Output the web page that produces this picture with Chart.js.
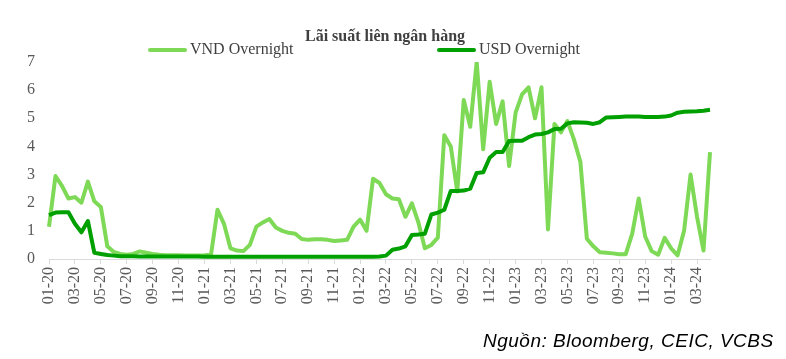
<!DOCTYPE html>
<html><head><meta charset="utf-8">
<script src="https://cdn.jsdelivr.net/npm/chart.js@4.4.1/dist/chart.umd.min.js"></script>
<style>
html,body{margin:0;padding:0;background:#fff;}
#wrap{position:relative;width:786px;height:359px;}
#source{position:absolute;left:483px;top:330px;font:italic 19px "Liberation Sans",Arial,sans-serif;letter-spacing:0.5px;color:#000;white-space:nowrap;}
</style></head><body>
<div id="wrap"><canvas id="c" width="786" height="359"></canvas><div id="source">Nguồn: Bloomberg, CEIC, VCBS</div></div>
<script>
const chartTitle = 'Lãi suất liên ngân hàng';
const seriesNames = ['VND Overnight', 'USD Overnight'];
const months = [
 '01-20','02-20','03-20','04-20','05-20','06-20','07-20','08-20','09-20','10-20','11-20','12-20',
 '01-21','02-21','03-21','04-21','05-21','06-21','07-21','08-21','09-21','10-21','11-21','12-21',
 '01-22','02-22','03-22','04-22','05-22','06-22','07-22','08-22','09-22','10-22','11-22','12-22',
 '01-23','02-23','03-23','04-23','05-23','06-23','07-23','08-23','09-23','10-23','11-23','12-23',
 '01-24','02-24','03-24','04-24'];
// half-monthly readings (%)
const vndOvernight = [
 1.15, 2.95, 2.6, 2.15, 2.2, 2.0, 2.75, 2.05, 1.85, 0.45,
 0.25, 0.18, 0.15, 0.18, 0.27, 0.22, 0.18, 0.15, 0.13, 0.13,
 0.13, 0.12, 0.12, 0.12, 0.13, 0.15, 1.75, 1.25, 0.38, 0.3,
 0.28, 0.5, 1.15, 1.3, 1.42, 1.12, 1.0, 0.93, 0.9, 0.71,
 0.68, 0.7, 0.7, 0.68, 0.64, 0.66, 0.68, 1.15, 1.4, 1.0,
 2.85, 2.7, 2.3, 2.15, 2.12, 1.5, 1.98, 1.3, 0.38, 0.5,
 0.76, 4.4, 4.0, 2.4, 5.65, 4.7, 7.0, 3.9, 6.3, 4.8,
 5.6, 3.3, 5.2, 5.85, 6.1, 5.0, 6.1, 1.05, 4.8, 4.5,
 4.9, 4.25, 3.45, 0.72, 0.45, 0.24, 0.22, 0.2, 0.17, 0.17,
 0.9, 2.15, 0.8, 0.28, 0.15, 0.75, 0.38, 0.13, 1.0, 3.0,
 1.5, 0.3, 3.8];
const usdOvernight = [
 1.56, 1.65, 1.66, 1.66, 1.25, 0.95, 1.35, 0.22, 0.18, 0.14,
 0.12, 0.1, 0.1, 0.1, 0.09, 0.09, 0.09, 0.09, 0.09, 0.09,
 0.09, 0.09, 0.09, 0.09, 0.08, 0.08, 0.08, 0.08, 0.08, 0.08,
 0.08, 0.08, 0.08, 0.08, 0.08, 0.08, 0.08, 0.08, 0.08, 0.08,
 0.08, 0.08, 0.08, 0.08, 0.08, 0.08, 0.08, 0.08, 0.08, 0.08,
 0.08, 0.09, 0.12, 0.33, 0.37, 0.45, 0.85, 0.87, 0.9, 1.58,
 1.65, 1.75, 2.42, 2.42, 2.43, 2.5, 3.06, 3.08, 3.6, 3.8,
 3.8, 4.19, 4.2, 4.2, 4.33, 4.42, 4.44, 4.5, 4.62, 4.63,
 4.82, 4.86, 4.85, 4.84, 4.8, 4.86, 5.03, 5.04, 5.05, 5.06,
 5.06, 5.06, 5.05, 5.05, 5.05, 5.06, 5.1, 5.2, 5.23, 5.24,
 5.25, 5.27, 5.3];

const periods = months.flatMap(m => [m, m]).slice(0, vndOvernight.length);

const SERIF = '"Liberation Serif", "Times New Roman", serif';

const headerPlugin = {
  id: 'header',
  afterDraw(chart) {
    const ctx = chart.ctx;
    ctx.save();
    ctx.textBaseline = 'middle';
    ctx.fillStyle = '#404040';
    ctx.font = 'bold 16px ' + SERIF;
    ctx.textAlign = 'center';
    ctx.fillText(chartTitle, 385, 37);
    const keyX = [148, 437];
    ctx.font = '16px ' + SERIF;
    ctx.textAlign = 'left';
    chart.data.datasets.forEach((ds, i) => {
      const x = keyX[i];
      ctx.strokeStyle = ds.borderColor;
      ctx.lineWidth = 4;
      ctx.lineCap = 'round';
      ctx.beginPath();
      ctx.moveTo(x + 2, 50);
      ctx.lineTo(x + 37, 50);
      ctx.stroke();
      ctx.fillStyle = '#404040';
      ctx.fillText(ds.label, x + 42, 50);
    });
    ctx.restore();
  }
};

new Chart(document.getElementById('c'), {
  type: 'line',
  data: {
    labels: periods,
    datasets: [
      { label: seriesNames[0], data: vndOvernight, borderColor: '#7ed957', borderWidth: 4, pointRadius: 0, tension: 0, order: 1, borderJoinStyle: 'round' },
      { label: seriesNames[1], data: usdOvernight, borderColor: '#00a000', borderWidth: 4, pointRadius: 0, tension: 0, order: 0, borderJoinStyle: 'round' }
    ]
  },
  options: {
    responsive: false,
    animation: false,
    devicePixelRatio: 1,
    layout: { padding: { top: 62, right: 76, bottom: 0, left: 0 } },
    plugins: { legend: { display: false }, title: { display: false }, tooltip: { enabled: false } },
    scales: {
      x: {
        type: 'category',
        offset: false,
        afterBuildTicks: (scale) => { scale.ticks = scale.ticks.filter((t, i) => i % 4 === 0); },
        afterFit: (scale) => { scale.height = 100; },
        grid: { drawOnChartArea: false, color: '#d9d9d9', tickLength: 5 },
        border: { color: '#d9d9d9', width: 1 },
        ticks: { autoSkip: false, minRotation: 90, maxRotation: 90, padding: 3, color: '#595959', font: { family: SERIF, size: 16 } }
      },
      y: {
        min: 0, max: 7,
        afterFit: (scale) => { scale.width = 49; },
        grid: { display: false, drawTicks: false },
        border: { display: false },
        ticks: { stepSize: 1, padding: 14, color: '#595959', font: { family: SERIF, size: 16 } }
      }
    }
  },
  plugins: [headerPlugin]
});
</script>
</body></html>
